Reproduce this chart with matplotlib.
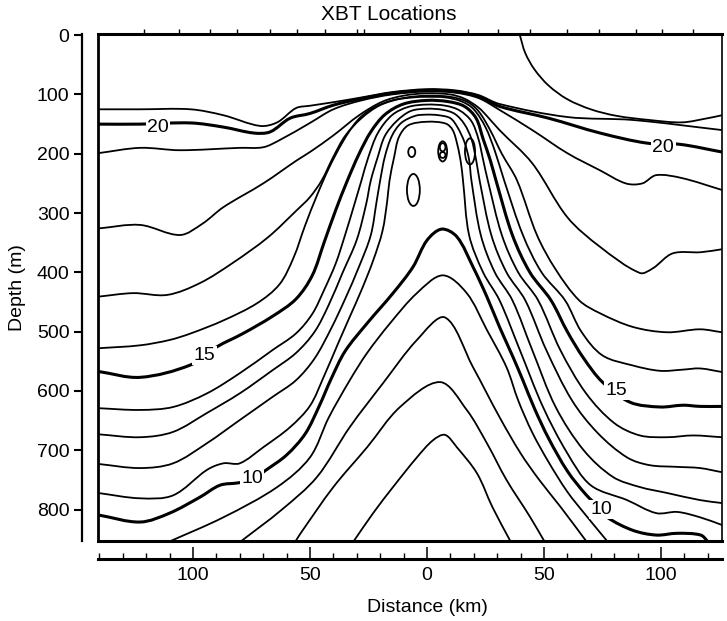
import matplotlib
matplotlib.use("Agg")
import matplotlib.pyplot as plt
from matplotlib.patches import Ellipse, PathPatch
from matplotlib.path import Path
from matplotlib.transforms import blended_transform_factory
import numpy as np

plt.rcParams['font.family'] = ['Liberation Sans', 'DejaVu Sans']

# ---- isotherms (distance km, depth m) ----
ISO_22 = [(39.7, 0), (42, 30), (46, 58), (52, 85), (60, 108), (70, 125), (81, 136), (95, 143),
          (109, 147), (120, 140), (126.1, 135)]
ISO_21 = [(-140.6, 125), (-122.6, 125), (-101, 125), (-87, 135), (-71.4, 153), (-64, 147), (-56, 123),
          (-50, 119), (-40, 113), (-28, 105), (-15, 96), (0, 91), (12, 93), (22, 101), (31, 116),
          (60, 138), (88, 143), (126.1, 160)]
ISO_20 = [(-140.6, 150), (-122.6, 150), (-101, 148), (-87, 155), (-74, 165), (-67, 163), (-58.5, 140),
          (-50, 132), (-40, 118), (-28, 107), (-15, 98), (0, 93), (12, 95), (22, 103), (31, 120),
          (52, 140), (74, 165), (94, 182), (108, 184), (126.1, 197)]
ISO_19 = [(-140.6, 199), (-122.6, 190), (-105.6, 194), (-80, 190), (-70, 189), (-63, 177), (-50, 148),
          (-40, 125), (-28, 110), (-15, 100), (0, 95), (12, 97), (22, 106), (31, 126), (45, 160),
          (60, 199), (74, 228), (85, 250), (92, 250), (98, 236), (109, 241), (126.1, 261)]
ISO_18 = [(-140.6, 326), (-122.6, 320), (-105.6, 337), (-96, 318), (-87, 290), (-70, 250), (-55.6, 211),
          (-50, 197), (-40, 169), (-29, 135), (-19, 112), (-10, 102), (0, 98), (10, 100), (16, 107),
          (22, 122), (26, 138), (31, 160), (45, 216), (60, 307), (74, 357), (91, 401), (96.6, 393),
          (105, 368), (117, 366), (126.1, 361)]
ISO_17 = [(-140.6, 441), (-125.6, 435), (-111, 438), (-97, 418), (-83, 384), (-68, 341), (-55.6, 295),
          (-50, 273), (-45, 245), (-40, 205), (-35, 170), (-28, 140), (-20, 118), (-10, 106), (0, 102),
          (10, 104), (17, 112), (22, 128), (27, 160), (32, 200), (38.5, 245), (47, 337), (55, 395),
          (65, 447), (74, 469), (88, 492), (102.6, 501), (116.7, 496), (126.1, 501)]
ISO_16 = [(-140.6, 528), (-122.6, 523), (-110, 514), (-101, 503), (-87, 481), (-72.6, 452), (-63, 420),
          (-57, 375), (-52, 320), (-47, 270), (-42, 225), (-36, 180), (-30, 145), (-24, 125), (-15, 110),
          (-6, 105), (0, 104), (8, 105), (15, 112), (20, 125), (25, 155), (29, 195), (33, 245),
          (41, 337), (49, 400), (59, 447), (66, 500), (75, 540), (88, 557), (99.6, 566), (109.4, 564),
          (116.7, 562), (126.1, 568)]
ISO_15 = [(-140.6, 567), (-122.6, 577), (-101, 556), (-90, 526), (-78.6, 503), (-66, 474), (-56, 445),
          (-49, 405), (-44, 350), (-39, 295), (-34, 245), (-29, 200), (-24, 163), (-18, 134), (-10, 116),
          (0, 110), (9, 112), (16, 120), (21, 140), (24, 175), (27, 210), (29.5, 245), (36.5, 337),
          (44, 400), (53, 447), (60, 500), (67, 545), (75, 585), (86.8, 619), (99.6, 627), (109.4, 624),
          (116.7, 626), (126.1, 626)]
ISO_14 = [(-140.6, 629), (-122.6, 632), (-108.5, 627), (-94, 604), (-80, 570), (-66, 531), (-56, 503),
          (-49, 470), (-44, 430), (-39, 385), (-35, 337), (-31, 285), (-28, 245), (-25, 205), (-21, 165),
          (-15, 135), (-8, 121), (0, 117), (8, 119), (14, 127), (19, 145), (22, 175), (24, 210),
          (26, 245), (32, 337), (39, 400), (47.5, 447), (57, 531), (68, 604), (80, 654), (91, 675),
          (102.6, 678), (113.7, 675), (126.1, 678)]
ISO_13 = [(-140.6, 673), (-122.6, 678), (-108.5, 669), (-94, 637), (-80, 604), (-66, 565), (-56, 536),
          (-48, 500), (-42, 455), (-36, 400), (-30, 345), (-26, 285), (-24, 245), (-21, 205), (-18, 170),
          (-13, 145), (-7, 128), (0, 124), (7, 126), (12, 133), (16, 150), (19, 175), (21, 210),
          (22.5, 245), (27.5, 337), (34, 400), (42, 447), (51, 531), (62, 616), (73, 671),
          (85.5, 712), (95, 725), (107, 728), (116.7, 730), (126.1, 737)]
ISO_12 = [(-140.6, 723), (-122.6, 730), (-108.5, 722), (-94, 688), (-80, 649), (-66, 610), (-56, 582),
          (-48, 545), (-41, 495), (-35, 445), (-29, 390), (-24, 337), (-21.5, 280), (-20, 245), (-18, 205),
          (-15, 170), (-11, 148), (-5, 136), (0, 134), (5, 135), (10, 140), (13, 155), (16, 180),
          (18, 210), (19, 245), (23, 337), (29, 400), (36.5, 447), (45, 531), (55, 627), (67, 700),
          (79.5, 745), (91, 762), (102.6, 772), (116.7, 784), (126.1, 789)]
ISO_11 = [(-140.6, 772), (-122.6, 781), (-108.5, 776), (-94, 733), (-87, 722), (-80, 722), (-70, 695),
          (-58.5, 661), (-50, 625), (-44, 575), (-38, 520), (-33, 475), (-28, 430), (-23, 380),
          (-19, 330), (-17, 280), (-16, 245), (-14, 205), (-12, 172), (-8, 152), (0, 146), (8, 149),
          (11, 160), (13, 185), (14.5, 215), (15.4, 245), (18, 337), (24, 400), (31, 447), (39.7, 531),
          (49.6, 627), (60, 705), (70, 759), (85.5, 784), (98, 806), (107, 804), (116.7, 813),
          (126.1, 826)]
ISO_10 = [(-140.6, 809), (-122.6, 821), (-110, 806), (-97, 779), (-88.5, 759), (-80.8, 755), (-74.8, 750),
          (-69, 734), (-60, 708), (-52, 672), (-46, 625), (-41, 580), (-35, 533), (-25.6, 486),
          (-14.5, 435), (-6, 391), (0, 346), (6.3, 327), (12.8, 340), (19.7, 391), (25.6, 441),
          (31, 492), (36.8, 543), (41, 582), (46, 630), (52, 680), (60, 735), (68, 775), (74, 798),
          (77, 813), (88, 835), (98, 843), (107, 840), (117, 843), (120.3, 855)]
ISO_9 = [(-110.7, 855), (-87, 813), (-64, 762), (-50, 712), (-42, 645), (-33, 582), (-25.6, 536),
         (-15.8, 486), (-4.3, 435), (6.8, 405), (17, 435), (25.6, 497), (34, 560), (39, 616), (45, 670),
         (52, 720), (60, 770), (68, 810), (77.4, 855)]
ISO_8 = [(-80, 855), (-62, 800), (-47, 745), (-33, 661), (-18.8, 587), (-4.3, 514), (7.7, 476),
         (19.7, 560), (31, 644), (40, 705), (48, 750), (57, 795), (68.4, 855)]
ISO_7 = [(-56.4, 855), (-54, 840), (-40, 762), (-25.6, 695), (-11.5, 627), (5.6, 585), (17, 632),
         (25.6, 688), (34, 750), (44, 812), (50.4, 855)]
ISO_6 = [(-31.6, 855), (-23, 806), (-14.5, 762), (-4.3, 712), (2.6, 683), (7.7, 674), (12.8, 695),
         (21.4, 739), (28, 796), (35.9, 855)]

ISOTHERMS = {22: ISO_22, 21: ISO_21, 20: ISO_20, 19: ISO_19, 18: ISO_18, 17: ISO_17, 16: ISO_16,
             15: ISO_15, 14: ISO_14, 13: ISO_13, 12: ISO_12, 11: ISO_11, 10: ISO_10, 9: ISO_9,
             8: ISO_8, 7: ISO_7, 6: ISO_6}

# small closed contours: centre x (km), centre depth (m), width (km), height (m)
EDDY_X = [-6.5, -5.8, 6.7, 6.7, 6.7, 18.4]
EDDY_D = [197, 261, 196, 189, 202, 196]
EDDY_W = [3.0, 5.5, 3.8, 2.4, 2.4, 4.3]
EDDY_H = [17, 54, 34, 14, 10, 44]

# contour labels
LABEL_TEXT = ['20', '20', '15', '15', '10', '10']
LABEL_X = [-115, 101, -95, 81, -74.8, 74.5]
LABEL_D = [155, 189, 540, 599, 748, 800]

# XBT station positions (km)
XBT_X = [-120.9, -106, -92.7, -81.2, -67.1, -55.6, -43.6, -29.9, -26.9, -7.3, 5.6, 17.5, 30.3,
         44, 59.8, 73.5, 89.3, 100.4, 113.7]

X_TICKS = [-100, -50, 0, 50, 100]
X_TICK_LABELS = ['100', '50', '0', '50', '100']
Y_TICKS = [0, 100, 200, 300, 400, 500, 600, 700, 800]

W, H = 727, 621
fig = plt.figure(figsize=(W / 100, H / 100), dpi=100)
ax = fig.add_axes([98 / W, 1 - 541 / H, (722 - 98) / W, (541 - 34) / H])
ax.set_xlim(-140.6, 126.1)
ax.set_ylim(853, -2)


def smooth_path(pts):
    """Bezier path passing through the read points (chord-length Hermite)."""
    P = np.asarray(pts, dtype=float)
    Q = P * np.array([2.34, 0.593])
    L = np.hypot(*(np.diff(Q, axis=0).T))
    n = len(P)
    T = np.zeros_like(P)
    T[0] = (P[1] - P[0]) / L[0]
    T[-1] = (P[-1] - P[-2]) / L[-1]
    for i in range(1, n - 1):
        T[i] = (P[i + 1] - P[i - 1]) / (L[i - 1] + L[i])
    verts = [P[0]]
    codes = [Path.MOVETO]
    for i in range(n - 1):
        verts += [P[i] + T[i] * L[i] / 3, P[i + 1] - T[i + 1] * L[i] / 3, P[i + 1]]
        codes += [Path.CURVE4] * 3
    return Path(verts, codes)


for t, pts in ISOTHERMS.items():
    lw = 2.2 if t % 5 == 0 else 1.3
    ax.add_patch(PathPatch(smooth_path(pts), fill=False, edgecolor='black', lw=lw,
                           joinstyle='round', capstyle='round', zorder=2))

for x, d, w, h in zip(EDDY_X, EDDY_D, EDDY_W, EDDY_H):
    ax.add_patch(Ellipse((x, d), w, h, fill=False, edgecolor='black', lw=1.3, zorder=2))

for txt, x, d in zip(LABEL_TEXT, LABEL_X, LABEL_D):
    ax.text(x, d, txt, ha='center', va='center', fontsize=14, zorder=4,
            bbox=dict(facecolor='white', edgecolor='none', pad=1.0))

# frame
for xs, ys, lw in [([0, 1], [1, 1], 2.2), ([0, 1], [0, 0], 2.2), ([0, 0], [0, 1], 2.0), ([1, 1], [0, 1], 1.2)]:
    ax.plot(xs, ys, transform=ax.transAxes, color='black', lw=lw, clip_on=False,
            solid_capstyle='projecting', zorder=5)

# XBT location ticks on top
trans = blended_transform_factory(ax.transData, ax.transAxes)
ax.vlines(XBT_X, 1.0, 1.0 + 5 / 507, transform=trans, color='black', lw=1.0, clip_on=False)

# offset axes
ax.spines['top'].set_visible(False)
ax.spines['right'].set_visible(False)
ax.spines['left'].set_position(('outward', 11.5))
ax.spines['bottom'].set_position(('outward', 13))
ax.spines['left'].set_linewidth(1.6)
ax.spines['bottom'].set_linewidth(2.2)

ax.set_xticks(X_TICKS)
ax.set_xticklabels(X_TICK_LABELS)
ax.set_xticks(np.arange(-140, 130, 10), minor=True)
ax.set_yticks(Y_TICKS)
ax.set_yticklabels([str(v) for v in Y_TICKS])
ax.tick_params(axis='x', which='major', direction='in', length=8.5, width=1.1, labelsize=14, pad=6)
ax.tick_params(axis='x', which='minor', direction='in', length=4.5, width=1.0)
ax.tick_params(axis='y', which='major', direction='out', length=6, width=1.5, labelsize=14, pad=3)

fig.text(18 / W, 1 - 288 / H, 'Depth (m)', rotation=90, ha='center', va='center', fontsize=14)
fig.text(427 / W, 1 - 607 / H, 'Distance (km)', ha='center', va='center', fontsize=14)
fig.text(389 / W, 1 - 15 / H, 'XBT Locations', ha='center', va='center', fontsize=15)

fig.savefig('out.png', dpi=100, facecolor='white')
